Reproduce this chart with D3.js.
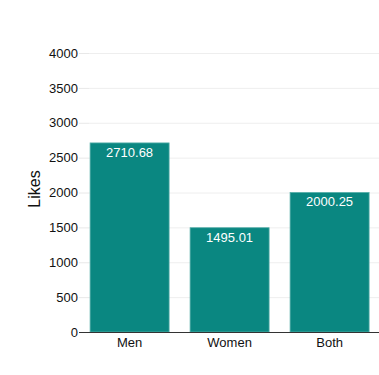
<!DOCTYPE html>
<html>
<head>
<meta charset="utf-8">
<script src="https://cdn.jsdelivr.net/npm/d3@7"></script>
<style>
  body { margin: 0; background: #fff; }
  text { font-family: "Liberation Sans", Arial, sans-serif; }
</style>
</head>
<body>
<div id="chart"></div>
<script>
// data
var categories = ["Men", "Women", "Both"];
var likes = [2710.68, 1495.01, 2000.25];
var yTicks = [0, 500, 1000, 1500, 2000, 2500, 3000, 3500, 4000];

var width = 379;
var height = 375;

// plot edges (note: "top" is taken by window.top)
var padL = 89, padR = 379, padT = 53, padB = 332;

var svg = d3.select("#chart").append("svg")
  .attr("width", width)
  .attr("height", height);

var x = d3.scaleBand()
  .domain(categories)
  .range([padL, padR])
  .paddingInner(0.21)
  .paddingOuter(0.055)
  .align(0.1);

var y = d3.scaleLinear()
  .domain([0, 4000])
  .range([padB, padT]);

// grid lines
svg.append("g").selectAll("line")
  .data(yTicks.slice(1))
  .enter().append("line")
  .attr("x1", padL).attr("x2", padR)
  .attr("y1", function(d){ return y(d) + 0.5; })
  .attr("y2", function(d){ return y(d) + 0.5; })
  .attr("stroke", "#eeeeee");

// y ticks
var yAxis = svg.append("g")
  .attr("transform", "translate(" + padL + ",0)")
  .call(d3.axisLeft(y).tickValues(yTicks).tickFormat(d3.format("d")).tickSize(10).tickPadding(1));
yAxis.select(".domain").remove();
yAxis.selectAll(".tick line").attr("stroke", "#e8e8e8");
yAxis.selectAll(".tick text")
  .attr("fill", "#111")
  .style("font-size", "13px")
  .style("font-family", "Liberation Sans, Arial, sans-serif");

// bars
svg.append("g").selectAll("rect")
  .data(likes)
  .enter().append("rect")
  .attr("x", function(d, i){ return x(categories[i]); })
  .attr("y", function(d){ return y(d); })
  .attr("width", x.bandwidth())
  .attr("height", function(d){ return y(0) - y(d); })
  .attr("fill", "#0a8781")
  .attr("stroke", "#56aea9")
  .attr("stroke-width", 0.8);

// value labels
svg.append("g").selectAll("text")
  .data(likes)
  .enter().append("text")
  .attr("x", function(d, i){ return x(categories[i]) + x.bandwidth() / 2; })
  .attr("y", function(d){ return y(d) + 14; })
  .attr("text-anchor", "middle")
  .attr("fill", "#fff")
  .style("font-size", "13px")
  .text(function(d){ return d.toFixed(2); });

// x axis
var xAxis = svg.append("g")
  .attr("transform", "translate(0," + padB + ")")
  .call(d3.axisBottom(x).tickSize(0).tickPadding(6));
xAxis.select(".domain").attr("d", "M" + (padL - 10) + ",0.5H" + padR).attr("stroke", "#333");
xAxis.selectAll(".tick text")
  .attr("fill", "#111")
  .style("font-size", "13px")
  .style("font-family", "Liberation Sans, Arial, sans-serif");

// y label
svg.append("text")
  .attr("transform", "translate(40,189) rotate(-90)")
  .attr("text-anchor", "middle")
  .attr("fill", "#111")
  .style("font-size", "16px")
  .text("Likes");
</script>
</body>
</html>
